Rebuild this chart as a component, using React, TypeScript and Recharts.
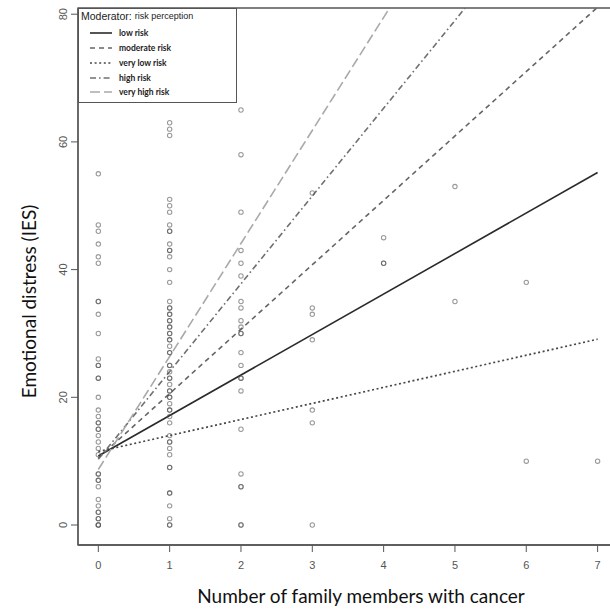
import React from "react";
import {
  ComposedChart,
  XAxis,
  YAxis,
  Line,
  Scatter,
  ReferenceArea,
} from "recharts";

// ---- data ----
const xTicks = [0, 1, 2, 3, 4, 5, 6, 7];
const yTicks = [0, 20, 40, 60, 80];

// observed IES scores per number of family members with cancer
const col0 = [55, 47, 46, 44, 42, 41, 35, 35, 33, 30, 26, 25, 25, 23, 23, 20, 18, 17, 16, 16, 15, 15, 14, 13, 12, 11, 8, 8, 7, 7, 6, 4, 3, 2, 2, 1, 1, 0, 0, 0];
const col1 = [63, 62, 61, 51, 50, 49, 47, 46, 46, 44, 43, 43, 42, 40, 38, 35, 34, 34, 33, 33, 32, 32, 31, 31, 30, 30, 29, 29, 28, 27, 27, 25, 25, 24, 23, 23, 22, 21, 21, 20, 20, 19, 18, 18, 17, 16, 14, 13, 13, 12, 11, 9, 9, 5, 5, 3, 1, 0, 0];
const col2 = [65, 58, 49, 43, 41, 39, 35, 34, 32, 31, 30, 30, 27, 25, 23, 23, 21, 15, 8, 6, 6, 0, 0];
const col3 = [52, 34, 33, 29, 18, 16, 0];
const col4 = [45, 41, 41];
const col5 = [53, 35];
const col6 = [38, 10];
const col7 = [10];
const columns = [col0, col1, col2, col3, col4, col5, col6, col7];

// simple-slope regression lines: predicted IES at x = 0 and x = 7
const lineX = [0, 7];
const lowRisk = [10.8, 55.2];
const moderateRisk = [10.5, 81.1];
const veryLowRisk = [11.5, 29.1];
const highRisk = [10.3, 106.5];
const veryHighRisk = [8.7, 132.6];

const X_DOMAIN: [number, number] = [-0.285, 7.286];
const Y_DOMAIN: [number, number] = [-3.13, 80.97];

const points = columns.flatMap((col, i) => col.map((v) => ({ x: xTicks[i], y: v })));
const lineData = lineX.map((x, i) => ({
  x,
  low: lowRisk[i],
  moderate: moderateRisk[i],
  veryLow: veryLowRisk[i],
  high: highRisk[i],
  veryHigh: veryHighRisk[i],
}));

const series = [
  { key: "low", name: "low risk", stroke: "#2a2a2a", dash: undefined as string | undefined, width: 1.6 },
  { key: "moderate", name: "moderate risk", stroke: "#666666", dash: "5 4", width: 1.6 },
  { key: "veryLow", name: "very low risk", stroke: "#474747", dash: "2 2.6", width: 1.7 },
  { key: "high", name: "high risk", stroke: "#707070", dash: "6 3 1.6 3", width: 1.6 },
  { key: "veryHigh", name: "very high risk", stroke: "#a9a9a9", dash: "10 4", width: 1.6 },
];

const tickFont = "'Liberation Sans', Arial, sans-serif";
const titleFont = "Lato, 'Open Sans', sans-serif";

const YTick = (props: any) => {
  const { x, y, payload } = props;
  return (
    <text
      x={x}
      y={y}
      transform={`rotate(-90, ${x}, ${y})`}
      textAnchor="middle"
      dominantBaseline="central"
      fontSize={11}
      fill="#555"
      fontFamily={tickFont}
    >
      {payload.value}
    </text>
  );
};

const XTick = (props: any) => {
  const { x, y, payload } = props;
  return (
    <text x={x} y={y} dy="0.71em" textAnchor="middle" fontSize={11} fill="#555" fontFamily={tickFont}>
      {payload.value}
    </text>
  );
};

const Dot = (props: any) => {
  const { cx, cy } = props;
  if (cx == null || cy == null) return <g />;
  return <circle cx={cx} cy={cy} r={2.2} fill="none" stroke="#505050" strokeOpacity={0.58} strokeWidth={1.05} />;
};

const XTitle = (props: any) => {
  const vb = props.viewBox;
  return (
    <text x={vb.x + vb.width / 2 + 13} y={vb.y + 58} textAnchor="middle" fontSize={19} fill="#111" fontFamily={titleFont}>
      Number of family members with cancer
    </text>
  );
};

const YTitle = (props: any) => {
  const vb = props.viewBox;
  const cx = vb.x + 28;
  const cy = vb.y + vb.height / 2 + 25;
  return (
    <text
      x={cx}
      y={cy}
      transform={`rotate(-90, ${cx}, ${cy})`}
      textAnchor="middle"
      dominantBaseline="central"
      fontSize={19}
      fill="#111"
      fontFamily={titleFont}
    >
      Emotional distress (IES)
    </text>
  );
};

const LegendBox = () => {
  const rows = [24, 39, 54, 69, 83];
  return (
    <div
      style={{
        position: "absolute",
        left: 78,
        top: 8,
        width: 159,
        height: 95,
        boxSizing: "border-box",
        border: "1.3px solid #555",
        background: "#fff",
      }}
    >
      <svg width={157} height={93} style={{ display: "block" }}>
        <text x={2} y={7} dominantBaseline="central" fontFamily={tickFont} fill="#222">
          <tspan fontSize={10.5}>Moderator: </tspan>
          <tspan fontSize={9}>risk perception</tspan>
        </text>
        {series.map((s, i) => (
          <g key={s.key}>
            <line
              x1={11}
              x2={33}
              y1={rows[i]}
              y2={rows[i]}
              stroke={s.stroke}
              strokeWidth={s.width}
              strokeDasharray={s.dash}
            />
            <text
              x={40}
              y={rows[i]}
              dominantBaseline="central"
              fontSize={8.5}
              fontWeight={700}
              fill="#222"
              fontFamily={titleFont}
            >
              {s.name}
            </text>
          </g>
        ))}
      </svg>
    </div>
  );
};

export default function App() {
  return (
    <div
      style={{
        position: "fixed",
        left: 0,
        top: 0,
        width: 610,
        height: 609,
        overflow: "hidden",
        background: "#fff",
      }}
    >
      <ComposedChart
        width={620}
        height={609}
        data={lineData}
        margin={{ top: 8, right: 2, bottom: 0, left: 0 }}
      >
        <XAxis
          type="number"
          dataKey="x"
          domain={X_DOMAIN}
          ticks={xTicks}
          allowDataOverflow
          height={64}
          tickSize={7}
          tickMargin={9}
          tick={<XTick />}
          axisLine={{ stroke: "#555", strokeWidth: 1.3 }}
          tickLine={{ stroke: "#555" }}
          label={<XTitle />}
        />
        <YAxis
          type="number"
          domain={Y_DOMAIN}
          ticks={yTicks}
          allowDataOverflow
          width={78}
          tickSize={7}
          tickMargin={8}
          tick={<YTick />}
          axisLine={{ stroke: "#555", strokeWidth: 1.3 }}
          tickLine={{ stroke: "#555" }}
          label={<YTitle />}
        />
        <ReferenceArea
          x1={X_DOMAIN[0]}
          x2={X_DOMAIN[1]}
          y1={Y_DOMAIN[0]}
          y2={Y_DOMAIN[1]}
          fill="none"
          stroke="#555"
          strokeWidth={1.3}
          ifOverflow="visible"
        />
        <Scatter data={points} dataKey="y" shape={<Dot />} isAnimationActive={false} />
        {series.map((s) => (
          <Line
            key={s.key}
            type="linear"
            dataKey={s.key}
            stroke={s.stroke}
            strokeWidth={s.width}
            strokeDasharray={s.dash}
            dot={false}
            activeDot={false}
            isAnimationActive={false}
          />
        ))}
      </ComposedChart>
      <LegendBox />
    </div>
  );
}
